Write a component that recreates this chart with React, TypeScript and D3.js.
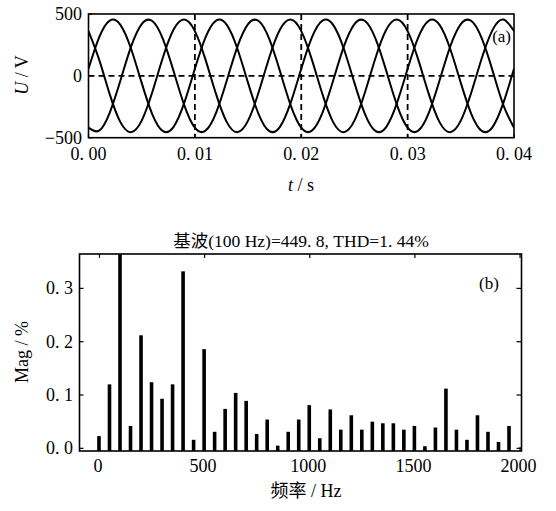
import React from "react";
import * as d3 from "d3";

const sampleStep = 0.001;
const phaseA = [57, 311, 447, 412, 219, -57, -311, -447, -412, -219,
  57, 311, 447, 412, 219, -57, -311, -447, -412, -219,
  57, 311, 447, 412, 219, -57, -311, -447, -412, -219,
  57, 311, 447, 412, 219, -57, -311, -447, -412, -219, 57];
const phaseB = [-419, -443, -297, -38, 236, 419, 443, 297, 38, -236,
  -419, -443, -297, -38, 236, 419, 443, 297, 38, -236,
  -419, -443, -297, -38, 236, 419, 443, 297, 38, -236,
  -419, -443, -297, -38, 236, 419, 443, 297, 38, -236, -419];
const phaseC = [362, 131, -150, -374, -455, -362, -131, 150, 374, 455,
  362, 131, -150, -374, -455, -362, -131, 150, 374, 455,
  362, 131, -150, -374, -455, -362, -131, 150, 374, 455,
  362, 131, -150, -374, -455, -362, -131, 150, 374, 455, 362];
const timeTicks = [0, 0.01, 0.02, 0.03, 0.04];
const timeTickLabels = ["0. 00", "0. 01", "0. 02", "0. 03", "0. 04"];
const voltTicks = [500, 0, -500];
const voltTickLabels = ["500", "0", "\u2212500"];

// ---- (b) harmonic spectrum ----
const freqs = [0, 50, 100, 150, 200, 250, 300, 350, 400, 450, 500, 550, 600, 650, 700, 750, 800, 850, 900, 950,
  1000, 1050, 1100, 1150, 1200, 1250, 1300, 1350, 1400, 1450, 1500, 1550, 1600, 1650, 1700, 1750, 1800, 1850, 1900, 1950];
const mags = [0.023, 0.120, 100, 0.042, 0.212, 0.124, 0.093, 0.120, 0.332, 0.016, 0.186, 0.031, 0.074, 0.104, 0.089, 0.027, 0.054, 0.005, 0.031, 0.054,
  0.081, 0.019, 0.073, 0.035, 0.062, 0.035, 0.050, 0.047, 0.047, 0.035, 0.042, 0.004, 0.039, 0.112, 0.035, 0.016, 0.062, 0.031, 0.012, 0.042];
const freqTicks = [0, 500, 1000, 1500, 2000];
const magTicks = [0, 0.1, 0.2, 0.3];
const magTickLabels = ["0. 0", "0. 1", "0. 2", "0. 3"];

const SERIF = "'Liberation Serif', 'Times New Roman', 'Noto Sans CJK SC', serif";

export default function App() {
  // panel (a)
  const aL = 88.5, aR = 514, aT = 14, aB = 137.7;
  const xA = d3.scaleLinear().domain([0, 0.04]).range([aL, aR]);
  const yA = d3.scaleLinear().domain([-500, 500]).range([aB, aT]);
  const line = d3.line<number>()
    .x((_, i) => xA(i * sampleStep))
    .y((d) => yA(d))
    .curve(d3.curveNatural);

  // panel (b)
  const bL = 79.5, bR = 521.5, bT = 254, bB = 451;
  const xB = d3.scaleLinear().domain([-95, 2007]).range([bL, bR]);
  const yB = d3.scaleLinear().domain([-0.005, 0.3645]).range([bB, bT]);
  const barW = 3.6;

  return (
    <svg width={556} height={511} style={{ position: "absolute", left: 0, top: 0, background: "#fff" }}
      fontFamily={SERIF}>
      <defs>
        <clipPath id="clipA"><rect x={aL} y={aT} width={aR - aL} height={aB - aT} /></clipPath>
        <clipPath id="clipB"><rect x={bL} y={bT} width={bR - bL} height={bB - bT} /></clipPath>
      </defs>

      {/* ===== Panel (a) ===== */}
      <g clipPath="url(#clipA)">
        {[0.01, 0.02, 0.03].map((t) => (
          <line key={t} x1={xA(t)} x2={xA(t)} y1={aT} y2={aB} stroke="#000" strokeWidth={1.8} strokeDasharray="6,4" />
        ))}
        <line x1={aL} x2={aR} y1={yA(0)} y2={yA(0)} stroke="#000" strokeWidth={1.8} strokeDasharray="6,4" />
        {[phaseA, phaseB, phaseC].map((s, i) => (
          <path key={i} d={line(s) || ""} fill="none" stroke="#000" strokeWidth={2} />
        ))}
      </g>
      <rect x={aL} y={aT} width={aR - aL} height={aB - aT} fill="none" stroke="#000" strokeWidth={1.6} />
      {timeTicks.map((t, i) => (
        <g key={t}>
          <line x1={xA(t)} x2={xA(t)} y1={aB} y2={aB - 4} stroke="#000" strokeWidth={1.2} />
          <text x={xA(t)} y={160} textAnchor="middle" fontSize={18}>{timeTickLabels[i]}</text>
        </g>
      ))}
      {voltTicks.map((v, i) => (
        <g key={v}>
          <line x1={aL} x2={aL + 4} y1={yA(v)} y2={yA(v)} stroke="#000" strokeWidth={1.2} />
          <text x={82} y={yA(v) + 6} textAnchor="end" fontSize={18}>{voltTickLabels[i]}</text>
        </g>
      ))}
      <text x={511} y={42} textAnchor="end" fontSize={17}>(a)</text>
      <text x={301} y={191} textAnchor="middle" fontSize={18}>
        <tspan fontStyle="italic">t</tspan> / s
      </text>
      <text transform="translate(28,75) rotate(-90)" textAnchor="middle" fontSize={18}>
        <tspan fontStyle="italic">U</tspan> / V
      </text>

      {/* ===== Panel (b) ===== */}
      <text x={301} y={247} textAnchor="middle" fontSize={17.5}>
        基波(100 Hz)=449. 8, THD=1. 44%
      </text>
      <g clipPath="url(#clipB)">
        {freqs.map((f, i) => (
          <rect key={f} x={xB(f) - barW / 2 - 0.5} width={barW}
            y={yB(mags[i])} height={bB - yB(mags[i])} fill="#000" />
        ))}
      </g>
      <rect x={bL} y={bT} width={bR - bL} height={bB - bT} fill="none" stroke="#000" strokeWidth={1.6} />
      {freqTicks.map((f) => (
        <g key={f}>
          <line x1={xB(f)} x2={xB(f)} y1={bT} y2={bT + 4} stroke="#000" strokeWidth={1.2} />
          <line x1={xB(f)} x2={xB(f)} y1={bB} y2={bB - 4} stroke="#000" strokeWidth={1.2} />
          <text x={xB(f) - 1.5} y={471.5} textAnchor="middle" fontSize={18}>{f}</text>
        </g>
      ))}
      {magTicks.map((m, i) => (
        <g key={m}>
          <line x1={bL} x2={bL + 4} y1={yB(m)} y2={yB(m)} stroke="#000" strokeWidth={1.2} />
          <line x1={bR} x2={bR - 5} y1={yB(m)} y2={yB(m)} stroke="#000" strokeWidth={1.2} />
          <text x={73} y={yB(m) + 6} textAnchor="end" fontSize={18}>{magTickLabels[i]}</text>
        </g>
      ))}
      <text x={489} y={289} textAnchor="middle" fontSize={17}>(b)</text>
      <text x={306} y={497} textAnchor="middle" fontSize={18}>频率 / Hz</text>
      <text transform="translate(28,352) rotate(-90)" textAnchor="middle" fontSize={18}>Mag / %</text>
    </svg>
  );
}
